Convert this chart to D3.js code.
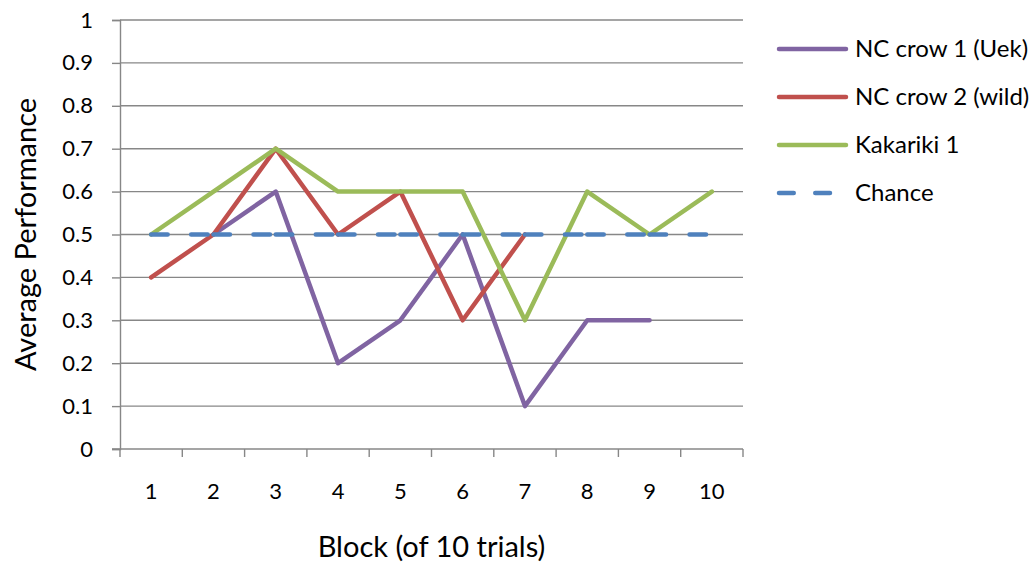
<!DOCTYPE html>
<html>
<head>
<meta charset="utf-8">
<script src="https://cdn.jsdelivr.net/npm/d3@7"></script>
<style>
  body { margin: 0; background: #fff; }
  svg text { font-family: Lato, "Open Sans", sans-serif; fill: #000; }
</style>
</head>
<body>
<svg id="chart" width="1032" height="566"></svg>
<script>
// Block numbers along the x axis
const blocks = ["1", "2", "3", "4", "5", "6", "7", "8", "9", "10"];
// Average performance per block (null = no data for that block)
const crow1 = [null, 0.5, 0.6, 0.2, 0.3, 0.5, 0.1, 0.3, 0.3, null];
const crow2 = [0.4, 0.5, 0.7, 0.5, 0.6, 0.3, 0.5, null, null, null];
const kakariki = [0.5, 0.6, 0.7, 0.6, 0.6, 0.6, 0.3, 0.6, 0.5, 0.6];
const chance = [0.5, 0.5, 0.5, 0.5, 0.5, 0.5, 0.5, 0.5, 0.5, 0.5];
const yTicks = [0, 0.1, 0.2, 0.3, 0.4, 0.5, 0.6, 0.7, 0.8, 0.9, 1];

const seriesNames = ["NC crow 1 (Uek)", "NC crow 2 (wild)", "Kakariki 1", "Chance"];
const seriesValues = [crow1, crow2, kakariki, chance];
const seriesColors = ["#8064A2", "#C0504D", "#9BBB59", "#4F81BD"];
const seriesDashed = [false, false, false, true];

const svg = d3.select("#chart");
const plot = { left: 120, right: 743, top: 20, bottom: 449 };

const x = d3.scaleBand().domain(blocks).range([plot.left, plot.right]);
const y = d3.scaleLinear().domain([0, 1]).range([plot.bottom, plot.top]);
const grid = "#878787";
const cx = b => x(b) + x.bandwidth() / 2;

// Horizontal gridlines
svg.append("g").selectAll("line").data(yTicks.filter(d => d > 0)).join("line")
  .attr("x1", plot.left).attr("x2", plot.right)
  .attr("y1", d => y(d)).attr("y2", d => y(d))
  .attr("stroke", grid).attr("stroke-width", 1.4);

// Y axis
const yAxis = svg.append("g").attr("transform", `translate(${plot.left},0)`)
  .call(d3.axisLeft(y).tickValues(yTicks)
    .tickFormat(d => d === 0 || d === 1 ? String(d) : d3.format(".1f")(d))
    .tickSize(8).tickPadding(19));
yAxis.select(".domain").attr("stroke", grid).attr("stroke-width", 1.4);
yAxis.selectAll(".tick line").attr("stroke", grid).attr("stroke-width", 1.4);
yAxis.selectAll("text").style("font-size", "22px").attr("fill", "#000");

// X axis with tick marks between categories
const xAxis = svg.append("g").attr("transform", `translate(0,${plot.bottom})`);
xAxis.append("line").attr("x1", plot.left - 8).attr("x2", plot.right).attr("y1", 0).attr("y2", 0)
  .attr("stroke", grid).attr("stroke-width", 1.4);
const bounds = blocks.map(b => x(b)).concat([plot.right]);
xAxis.selectAll("line.t").data(bounds).join("line").attr("class", "t")
  .attr("x1", d => d).attr("x2", d => d).attr("y1", 0).attr("y2", 8)
  .attr("stroke", grid).attr("stroke-width", 1.4);
xAxis.selectAll("text").data(blocks).join("text")
  .attr("x", d => cx(d)).attr("y", 42)
  .attr("dy", "0.35em").attr("text-anchor", "middle")
  .style("font-size", "22px").text(d => d);

// Series lines
const line = d3.line()
  .defined(d => d.v !== null)
  .x(d => cx(d.b))
  .y(d => y(d.v));

seriesValues.forEach((vals, i) => {
  const pts = blocks.map((b, j) => ({ b, v: vals[j] }));
  const style = sel => sel
    .attr("fill", "none")
    .attr("stroke", seriesColors[i])
    .attr("stroke-width", 4.5)
    .attr("stroke-linecap", "round")
    .attr("stroke-linejoin", "round");
  if (seriesDashed[i]) {
    // dash pattern restarts at each point, one path per segment
    const segs = d3.pairs(pts).filter(([a, b]) => a.v !== null && b.v !== null);
    svg.append("g").selectAll("path").data(segs).join("path")
      .attr("d", d => line(d))
      .call(style)
      .attr("stroke-dasharray", "16.5,23.5");
  } else {
    svg.append("path").datum(pts).attr("d", line).call(style);
  }
});

// Legend
const legend = svg.append("g");
seriesNames.forEach((name, i) => {
  const ly = 49 + i * 48;
  legend.append("line").attr("x1", 779).attr("x2", 846).attr("y1", ly).attr("y2", ly)
    .attr("stroke", seriesColors[i]).attr("stroke-width", 4.5)
    .attr("stroke-linecap", "round")
    .attr("stroke-dasharray", seriesDashed[i] ? "14.75,21.5" : null);
  legend.append("text").attr("x", 855).attr("y", ly).attr("dy", "0.35em")
    .style("font-size", "24px").text(name);
});

// Axis titles
svg.append("text").attr("x", (plot.left + plot.right) / 2).attr("y", 547)
  .attr("dy", "0.35em").attr("text-anchor", "middle")
  .style("font-size", "29px").text("Block (of 10 trials)");
svg.append("text").attr("transform", `translate(26,${(plot.top + plot.bottom) / 2}) rotate(-90)`)
  .attr("dy", "0.35em").attr("text-anchor", "middle")
  .style("font-size", "29px").text("Average Performance");
</script>
</body>
</html>
